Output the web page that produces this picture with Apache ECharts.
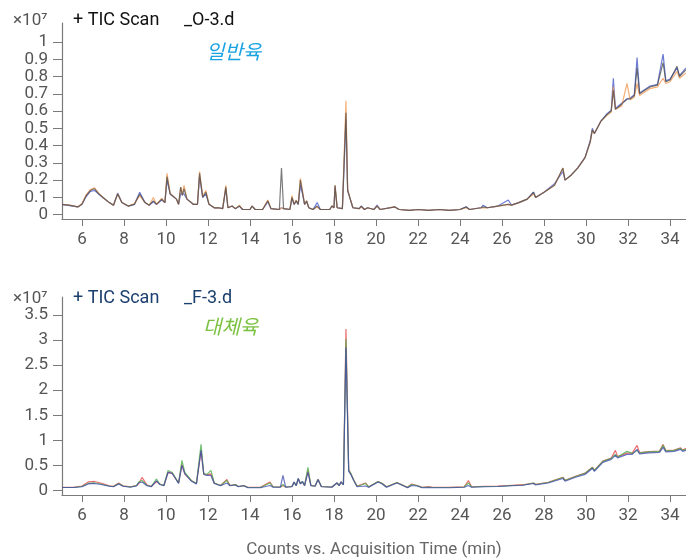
<!DOCTYPE html>
<html>
<head>
<meta charset="utf-8">
<script src="https://cdn.jsdelivr.net/npm/echarts@6/dist/echarts.min.js"></script>
<style>
html,body{margin:0;padding:0;background:#fff;}
#main{width:686px;height:558px;}
</style>
</head>
<body>
<div id="main"></div>
<script>
// 상단: 일반육 (O-3.d), 세 번 반복 측정
var topTime = [
  5.05, 5.4, 5.8, 6.0, 6.2, 6.4, 6.6, 6.8, 7.0, 7.3,
  7.5, 7.7, 7.9, 8.2, 8.5, 8.75, 9.0, 9.2, 9.4, 9.55,
  9.8, 9.95, 10.05, 10.2, 10.5, 10.6, 10.7, 10.78, 10.86, 11.0,
  11.3, 11.5, 11.6, 11.75, 11.9, 12.05, 12.3, 12.5, 12.7, 12.85,
  12.95, 13.15, 13.3, 13.5, 13.65, 14.0, 14.1, 14.25, 14.6, 14.85,
  15.0, 15.4, 15.5, 15.6, 15.9, 16.0, 16.1, 16.2, 16.3, 16.4,
  16.5, 16.6, 16.7, 16.8, 17.0, 17.2, 17.35, 17.8, 17.9, 18.0,
  18.05, 18.15, 18.4, 18.57, 18.65, 18.75, 18.9, 19.2, 19.3, 19.45,
  19.6, 19.9, 20.05, 20.2, 20.9, 21.1, 21.6, 22.0, 22.5, 23.0,
  23.5, 24.0, 24.3, 24.45, 25.0, 25.1, 25.3, 25.8, 26.3, 26.45,
  26.8, 27.2, 27.5, 27.6, 28.0, 28.5, 28.9, 29.0, 29.3, 29.6,
  29.95, 30.2, 30.3, 30.4, 30.7, 31.0, 31.2, 31.3, 31.4, 31.7,
  31.95, 32.1, 32.3, 32.43, 32.55, 32.8, 33.05, 33.4, 33.67, 33.8,
  34.0, 34.33, 34.45, 34.76
];
var topDark = [
  .060, .055, .045, .060, .110, .140, .150, .120, .100, .070,
  .055, .120, .070, .050, .060, .120, .070, .055, .080, .060,
  .090, .070, .220, .120, .090, .060, .160, .110, .150, .090,
  .060, .060, .240, .100, .130, .060, .040, .040, .035, .160,
  .040, .050, .035, .050, .030, .030, .050, .030, .030, .080,
  .035, .030, .270, .035, .030, .100, .060, .080, .060, .200,
  .130, .060, .080, .040, .030, .050, .030, .030, .050, .040,
  .170, .040, .035, .590, .140, .100, .040, .035, .050, .030,
  .040, .030, .050, .030, .045, .030, .025, .030, .025, .030,
  .025, .030, .045, .030, .040, .045, .040, .050, .060, .055,
  .070, .090, .130, .100, .130, .170, .270, .200, .230, .270,
  .330, .420, .490, .470, .540, .580, .600, .720, .610, .640,
  .670, .670, .690, .850, .700, .720, .740, .750, .880, .770,
  .780, .860, .800, .840
];
var topOrange = [
  .060, .055, .045, .065, .115, .145, .155, .125, .100, .070,
  .055, .120, .070, .050, .065, .110, .070, .055, .100, .060,
  .095, .070, .240, .125, .090, .060, .160, .120, .170, .090,
  .060, .060, .250, .105, .140, .060, .040, .040, .035, .170,
  .040, .050, .035, .055, .030, .030, .050, .030, .030, .085,
  .035, .030, .040, .035, .030, .110, .060, .085, .060, .210,
  .140, .060, .080, .040, .030, .045, .030, .030, .050, .040,
  .170, .040, .035, .660, .150, .100, .040, .035, .045, .030,
  .040, .030, .050, .030, .045, .030, .025, .030, .025, .030,
  .025, .030, .040, .030, .040, .040, .040, .050, .060, .055,
  .070, .090, .120, .100, .130, .170, .270, .200, .230, .270,
  .330, .420, .490, .470, .540, .575, .595, .740, .610, .630,
  .760, .665, .680, .760, .690, .710, .730, .740, .790, .760,
  .770, .830, .790, .820
];
var topBlue = [
  .058, .052, .045, .060, .105, .135, .140, .120, .100, .070,
  .055, .125, .070, .050, .060, .130, .070, .055, .075, .060,
  .085, .070, .200, .120, .090, .060, .120, .110, .120, .090,
  .060, .060, .220, .100, .120, .060, .040, .040, .035, .150,
  .040, .050, .035, .050, .030, .030, .050, .030, .030, .075,
  .035, .030, .040, .035, .030, .095, .060, .080, .060, .170,
  .120, .060, .075, .040, .030, .070, .030, .030, .050, .040,
  .160, .040, .035, .550, .140, .100, .040, .035, .050, .030,
  .040, .030, .055, .030, .045, .030, .025, .030, .025, .030,
  .025, .030, .045, .030, .040, .055, .040, .050, .085, .055,
  .070, .090, .130, .100, .130, .180, .250, .200, .230, .270,
  .330, .430, .500, .470, .540, .585, .605, .790, .615, .645,
  .670, .675, .695, .910, .705, .725, .745, .755, .930, .775,
  .785, .850, .805, .850
];

// 하단: 대체육 (F-3.d)
var botTime = [
  5.05, 5.6, 6.0, 6.3, 6.6, 6.9, 7.3, 7.5, 7.75, 7.95,
  8.3, 8.6, 8.7, 8.86, 9.1, 9.3, 9.55, 9.7, 9.9, 10.1,
  10.3, 10.6, 10.76, 10.9, 11.2, 11.45, 11.67, 11.8, 11.95, 12.14,
  12.3, 12.6, 12.9, 13.05, 13.3, 13.45, 13.7, 13.9, 14.5, 14.95,
  15.1, 15.45, 15.57, 15.7, 16.0, 16.1, 16.2, 16.3, 16.4, 16.5,
  16.6, 16.76, 16.9, 17.1, 17.24, 17.4, 17.9, 18.14, 18.25, 18.33,
  18.45, 18.57, 18.7, 18.8, 18.95, 19.1, 19.5, 19.65, 20.1, 20.3,
  20.5, 21.0, 21.3, 21.5, 21.7, 21.95, 22.2, 22.5, 22.7, 23.5,
  24.2, 24.4, 24.55, 25.2, 25.8, 26.5, 27.0, 27.5, 27.6, 28.2,
  28.9, 29.0, 29.5, 29.95, 30.3, 30.4, 30.8, 31.2, 31.4, 31.5,
  31.95, 32.2, 32.43, 32.55, 33.0, 33.5, 33.67, 33.8, 34.2, 34.5,
  34.6, 34.76
];
var botRed = [
  .065, .065, .090, .170, .180, .150, .095, .085, .150, .095,
  .075, .100, .140, .260, .110, .085, .180, .130, .100, .360,
  .340, .150, .520, .330, .200, .140, .800, .330, .310, .330,
  .150, .100, .220, .100, .120, .080, .100, .065, .065, .170,
  .075, .070, .100, .070, .080, .160, .100, .230, .140, .170,
  .100, .400, .100, .090, .220, .080, .070, .150, .100, .170,
  .120, 3.22, .420, .340, .200, .090, .150, .070, .180, .140,
  .075, .160, .100, .065, .130, .100, .065, .080, .065, .065,
  .075, .200, .075, .085, .090, .105, .115, .150, .125, .165,
  .265, .205, .285, .345, .465, .405, .585, .645, .800, .675,
  .745, .745, .900, .755, .775, .785, .920, .795, .805, .850,
  .805, .840
];
var botGreen = [
  .060, .060, .080, .140, .150, .130, .090, .080, .140, .090,
  .070, .100, .170, .200, .100, .080, .230, .130, .100, .400,
  .360, .150, .600, .360, .200, .140, .920, .340, .320, .400,
  .150, .100, .200, .100, .120, .080, .100, .060, .060, .150,
  .070, .070, .120, .070, .080, .170, .100, .240, .140, .180,
  .100, .460, .100, .090, .220, .080, .070, .150, .100, .170,
  .120, 3.02, .400, .340, .200, .080, .140, .070, .180, .140,
  .070, .160, .100, .060, .120, .100, .060, .070, .060, .060,
  .070, .150, .070, .080, .080, .100, .110, .150, .120, .160,
  .260, .200, .280, .340, .460, .400, .580, .640, .720, .670,
  .780, .740, .800, .750, .770, .780, .900, .790, .800, .840,
  .800, .820
];
var botBlue = [
  .060, .060, .075, .130, .140, .120, .085, .075, .130, .085,
  .065, .090, .150, .170, .095, .075, .190, .120, .095, .360,
  .340, .140, .500, .330, .190, .130, .800, .320, .300, .300,
  .140, .095, .150, .095, .110, .075, .095, .055, .055, .100,
  .065, .065, .300, .065, .075, .170, .095, .240, .130, .180,
  .095, .360, .095, .085, .220, .075, .065, .150, .095, .170,
  .115, 2.85, .380, .320, .190, .075, .090, .065, .170, .130,
  .065, .150, .095, .055, .100, .090, .055, .060, .055, .055,
  .065, .100, .065, .075, .080, .095, .105, .140, .110, .150,
  .240, .185, .265, .320, .440, .380, .560, .620, .700, .650,
  .720, .720, .820, .730, .750, .760, .860, .770, .780, .820,
  .780, .800
];

var xTicks = [6, 8, 10, 12, 14, 16, 18, 20, 22, 24, 26, 28, 30, 32, 34];
var topTicks = [0, 0.1, 0.2, 0.3, 0.4, 0.5, 0.6, 0.7, 0.8, 0.9, 1];
var botTicks = [0, 0.5, 1, 1.5, 2, 2.5, 3, 3.5];

function pairs(t, v) {
  var out = [];
  for (var i = 0; i < t.length; i++) {
    out.push([t[i], v[i]]);
  }
  return out;
}

var font = 'Roboto';
var axisColor = '#7a7a7a';
var labelColor = '#555';

function xAxisOf(idx, name) {
  return {
    type: 'value', gridIndex: idx, min: 5.05, max: 34.76,
    axisLine: {show: true, onZero: false, lineStyle: {color: axisColor, width: 1.2}},
    axisTick: {show: true, length: 7, customValues: xTicks, lineStyle: {color: axisColor}},
    axisLabel: {customValues: xTicks, color: labelColor, fontSize: 17, fontFamily: font, margin: 12},
    splitLine: {show: false},
    name: name, nameLocation: 'middle', nameGap: 46,
    nameTextStyle: {color: '#666', fontSize: 17, fontFamily: font}
  };
}

function yAxisOf(idx, min, max, ticks) {
  return {
    type: 'value', gridIndex: idx, min: min, max: max,
    axisLine: {show: true, onZero: false, lineStyle: {color: axisColor, width: 1.2}},
    axisTick: {show: true, length: 9, customValues: ticks, lineStyle: {color: axisColor}},
    axisLabel: {customValues: ticks, color: labelColor, fontSize: 17, fontFamily: font, margin: 14,
      formatter: function (v) { return String(Math.round(v * 10) / 10); }},
    splitLine: {show: false}
  };
}

function line(name, xi, t, v, color, op) {
  return {
    name: name, type: 'line', xAxisIndex: xi, yAxisIndex: xi,
    data: pairs(t, v), showSymbol: false, silent: true,
    lineStyle: {color: color, width: 1.2, opacity: op}
  };
}

var chart = echarts.init(document.getElementById('main'));
var option = {
  animation: false,
  backgroundColor: '#fff',
  grid: [
    {left: 62, right: 0, top: 23, height: 196, outerBoundsMode: 'none', containLabel: false},
    {left: 62, right: 0, top: 297, height: 198, outerBoundsMode: 'none', containLabel: false}
  ],
  xAxis: [xAxisOf(0, ''), xAxisOf(1, 'Counts vs. Acquisition Time (min)')],
  yAxis: [yAxisOf(0, -0.025, 1.11, topTicks), yAxisOf(1, -0.09, 3.86, botTicks)],
  title: [
    {text: '×10⁷', left: 8, top: 7, textStyle: {color: labelColor, fontSize: 17, fontWeight: 'normal', fontFamily: font}},
    {text: '+ TIC Scan', left: 68, top: 6, textStyle: {color: '#111', fontSize: 18, fontWeight: 'normal', fontFamily: font}},
    {text: '_O-3.d', left: 179, top: 6, textStyle: {color: '#111', fontSize: 18, fontWeight: 'normal', fontFamily: font}},
    {text: '일반육', left: 201, top: 36, textStyle: {color: '#1aa3e2', fontSize: 20, fontStyle: 'italic', fontWeight: 'normal', fontFamily: 'Noto Sans CJK KR'}},
    {text: '×10⁷', left: 8, top: 285, textStyle: {color: labelColor, fontSize: 17, fontWeight: 'normal', fontFamily: font}},
    {text: '+ TIC Scan', left: 68, top: 284, textStyle: {color: '#1b3f6e', fontSize: 18, fontWeight: 'normal', fontFamily: font}},
    {text: '_F-3.d', left: 179, top: 284, textStyle: {color: '#1b3f6e', fontSize: 18, fontWeight: 'normal', fontFamily: font}},
    {text: '대체육', left: 198, top: 311, textStyle: {color: '#7cc242', fontSize: 20, fontStyle: 'italic', fontWeight: 'normal', fontFamily: 'Noto Sans CJK KR'}}
  ],
  series: [
    line('blue', 0, topTime, topBlue, '#4a5cc8', 0.8),
    line('orange', 0, topTime, topOrange, '#f39b55', 0.8),
    line('dark', 0, topTime, topDark, '#454545', 0.7),
    line('red', 1, botTime, botRed, '#e8474a', 0.8),
    line('green', 1, botTime, botGreen, '#4fae4f', 0.8),
    line('blue2', 1, botTime, botBlue, '#3b47ad', 0.75)
  ]
};
chart.setOption(option);
</script>
</body>
</html>
